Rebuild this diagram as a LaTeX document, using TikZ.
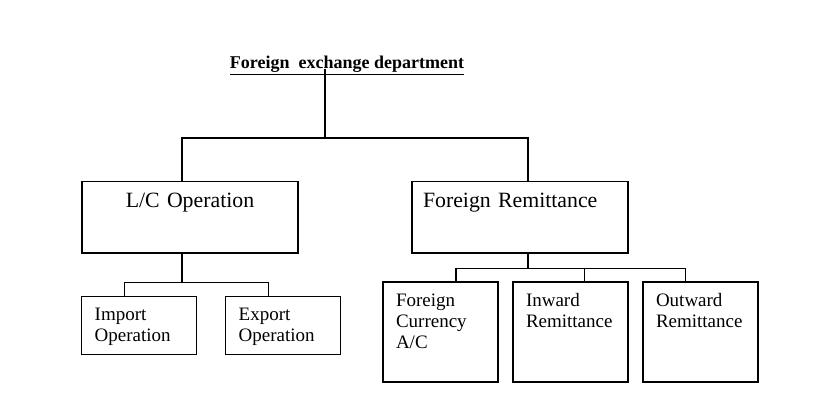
\documentclass[tikz,border=0pt]{standalone}
\usepackage{fontspec}
\setmainfont{Liberation Serif}
\usetikzlibrary{positioning}

\begin{document}
\begin{tikzpicture}[
x=1pt, y=-1pt,
box/.style={draw, line width=1.1pt, outer sep=0pt, anchor=north west, inner xsep=13pt, inner ysep=0pt, align=left, text width=89pt, text height=24pt, font=\fontsize{19}{21}\selectfont},
short/.style={box, text depth=33.6pt},
tall/.style={box, text depth=76pt},
big/.style={box, inner xsep=11pt, text width=194pt, text height=25.6pt, text depth=45.7pt, font=\fontsize{21.8}{24}\selectfont},
link/.style={line width=1.1pt}
]
\useasboundingbox (0,0) rectangle (820,420);
\node[font=\fontsize{18}{20}\bfseries\selectfont, inner sep=0pt, anchor=base] (title) at (347,69) {\underline{Foreign~ exchange department}};
\coordinate (hub) at (325,138);
% second level
\node[big, align=center] (lc) at (82,181.7) {L/C Operation};
\node[big] (fr) at (412,181.7) {Foreign Remittance};
% third level
\node[short] (imp) at (81.7,296.7) {Import\\Operation};
\node[short, right=29pt of imp] (exp) {Export\\Operation};
\node[tall] (fca) at (383,282) {Foreign\\Currency\\A/C};
\node[tall, right=15pt of fca] (inw) {Inward\\Remittance};
\node[tall, right=15pt of inw] (outw) {Outward\\Remittance};
% connectors
\draw[link] (title.base -| hub) -- (hub);
\draw[link] ([xshift=-8pt]lc.north) -- ++(0,-43.7) -| ([xshift=8pt]fr.north);
\draw[link] ([xshift=-8pt]lc.south) -- ++(0,29.7);
\draw[link] ([xshift=-15pt]imp.north) -- ++(0,-14) -| ([xshift=-15pt]exp.north);
\draw[link] ([xshift=8pt]fr.south) -- ++(0,15.3);
\draw[link] ([xshift=15.5pt]fca.north) -- ++(0,-13.7) -| ([xshift=-15pt]outw.north);
\draw[link] ([xshift=14pt]inw.north) -- ++(0,-13.7);
\end{tikzpicture}
\end{document}
